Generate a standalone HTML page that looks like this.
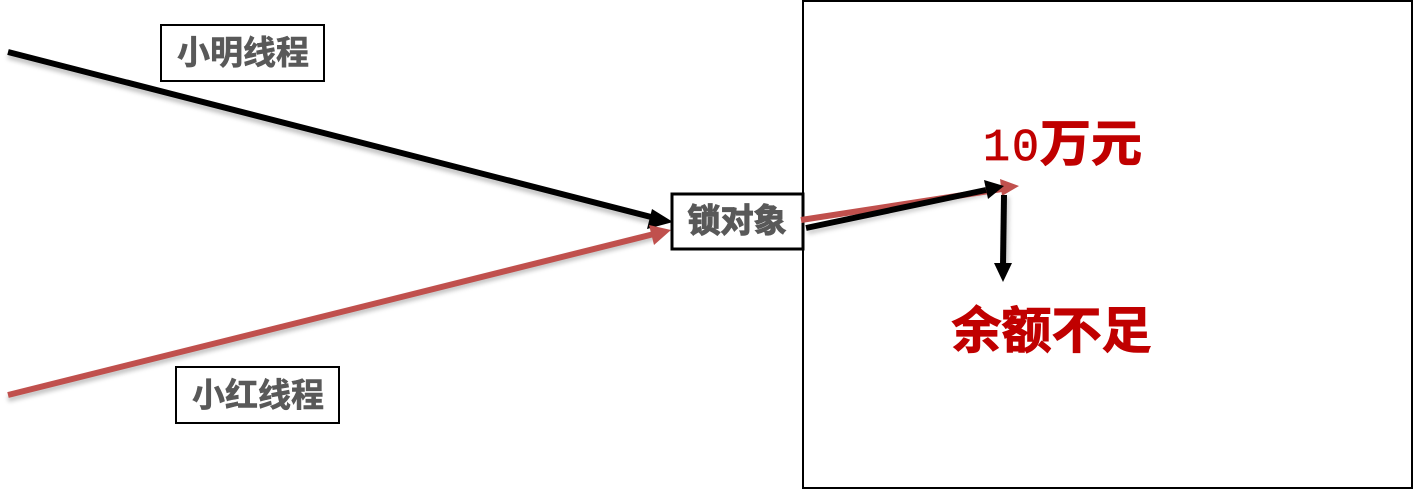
<!DOCTYPE html>
<html>
<head>
<meta charset="utf-8">
<style>
html,body{margin:0;padding:0;background:#fff;}
body{width:1413px;height:489px;overflow:hidden;position:relative;}
svg{position:absolute;left:0;top:0;}
text{font-family:"Liberation Sans","Noto Sans CJK SC",sans-serif;font-weight:700;}
</style>
</head>
<body>
<svg width="1413" height="489" viewBox="0 0 1413 489" xmlns="http://www.w3.org/2000/svg">
<defs>
<filter id="s" x="-10%" y="-30%" width="120%" height="170%"><feGaussianBlur stdDeviation="2"/></filter>
</defs>
<!-- shadows -->
<g filter="url(#s)" opacity="0.35" stroke="#555" fill="none" stroke-width="6">
<line x1="8" y1="56" x2="655" y2="222"/>
<line x1="8" y1="399" x2="655" y2="237"/>
</g>
<!-- big box -->
<rect x="803" y="1" width="609" height="487" fill="#fff" stroke="#000" stroke-width="2"/>
<g filter="url(#s)" opacity="0.3" stroke="#555" fill="none" stroke-width="5">
<line x1="808" y1="232" x2="990" y2="192"/>
<line x1="1007" y1="197" x2="1006" y2="268"/>
</g>
<!-- label boxes -->
<rect x="161" y="25" width="163" height="56" fill="#fff" stroke="#000" stroke-width="2"/>
<rect x="176" y="367" width="163" height="56" fill="#fff" stroke="#000" stroke-width="2"/>
<text x="243" y="64" font-size="33" fill="#595959" stroke="#595959" stroke-width="0.6" text-anchor="middle" textLength="132" lengthAdjust="spacingAndGlyphs">小明线程</text>
<text x="258" y="406.5" font-size="33" fill="#595959" stroke="#595959" stroke-width="0.6" text-anchor="middle" textLength="132" lengthAdjust="spacingAndGlyphs">小红线程</text>
<!-- main lines -->
<line x1="8" y1="52" x2="655" y2="218" stroke="#000" stroke-width="6"/>
<polygon points="673,222 652,209 647,229" fill="#000"/>
<line x1="8" y1="395" x2="654" y2="234" stroke="#c0504d" stroke-width="6"/>
<polygon points="671,230 649,225 654,245" fill="#c0504d"/>
<!-- lock box -->
<rect x="672" y="194" width="131" height="55" fill="#fff" stroke="#000" stroke-width="3"/>
<text x="737" y="232" font-size="33" fill="#595959" text-anchor="middle" textLength="99" lengthAdjust="spacingAndGlyphs" stroke="#595959" stroke-width="1.2">锁对象</text>
<!-- right arrows -->
<line x1="801" y1="220" x2="1002" y2="189" stroke="#c0504d" stroke-width="6"/>
<polygon points="1019,186 1000,179 1002,196" fill="#c0504d"/>
<line x1="806" y1="228" x2="986" y2="190" stroke="#000" stroke-width="6"/>
<polygon points="1004,186 984,180 988,199" fill="#000"/>
<line x1="1004" y1="195" x2="1003" y2="266" stroke="#000" stroke-width="6"/>
<polygon points="1003,282 994,263 1012,263" fill="#000"/>
<!-- red texts -->
<text x="983" y="160" font-size="45" letter-spacing="2" fill="#c00000" stroke="#c00000" stroke-width="0.8" style='font-family:"Liberation Mono",monospace;font-weight:400'>10</text>
<text x="1040" y="161" font-size="50" fill="#c00000" stroke="#c00000" stroke-width="1" textLength="102" lengthAdjust="spacingAndGlyphs">万元</text>
<text x="1051.5" y="348" font-size="50" fill="#c00000" stroke="#c00000" stroke-width="1" text-anchor="middle" textLength="200" lengthAdjust="spacingAndGlyphs">余额不足</text>
</svg>
</body>
</html>
